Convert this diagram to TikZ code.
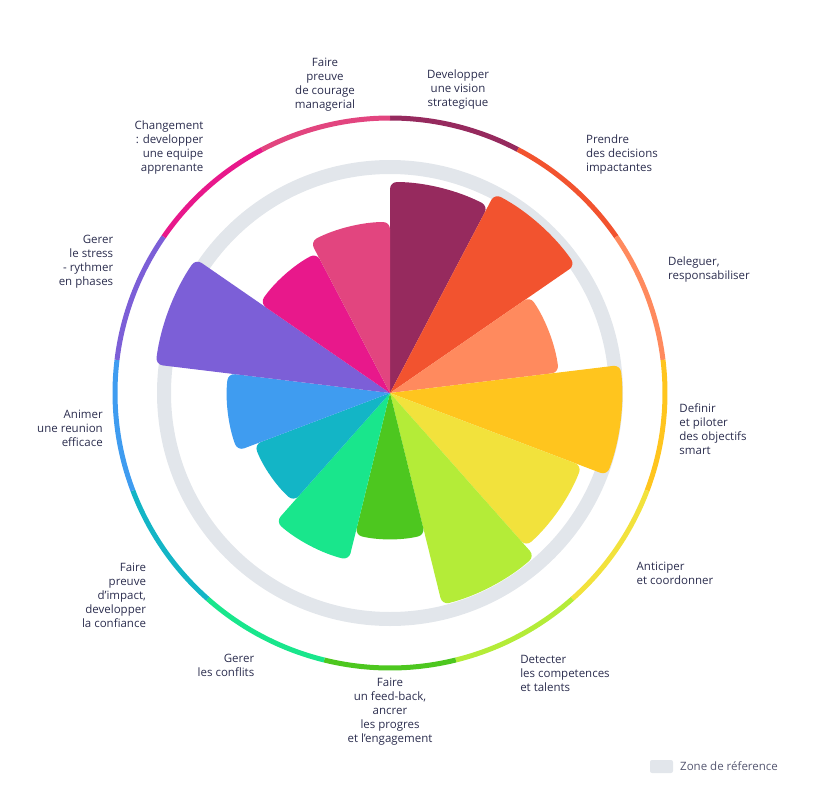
\documentclass[tikz,border=0pt]{standalone}
\usepackage{fontspec}
\setmainfont{Open Sans}
\usetikzlibrary{calc}
\definecolor{ink}{HTML}{2B2D4E}
\definecolor{zone}{HTML}{E2E6EB}
\definecolor{cA}{HTML}{962A5E}
\definecolor{cB}{HTML}{F2532F}
\definecolor{cC}{HTML}{FF8A5E}
\definecolor{cD}{HTML}{FFC51E}
\definecolor{cE}{HTML}{F2E23C}
\definecolor{cF}{HTML}{B4EC38}
\definecolor{cG}{HTML}{4DC71F}
\definecolor{cH}{HTML}{19E68C}
\definecolor{cI}{HTML}{13B5C6}
\definecolor{cJ}{HTML}{3F9CF0}
\definecolor{cK}{HTML}{7C5FD7}
\definecolor{cL}{HTML}{E8188B}
\definecolor{cM}{HTML}{E2457F}
\tikzset{lbl/.style={text=ink,font=\fontsize{11.5}{14}\selectfont,inner sep=0pt,align=center}}
\tikzset{lbll/.style={lbl,align=left}}
\tikzset{lblr/.style={lbl,align=right}}
\begin{document}
\begin{tikzpicture}[x=1pt,y=1pt]
    \useasboundingbox (0,0) rectangle (817,-787);
    \coordinate (c) at (390,-393);
    % reference zone
    \draw[zone,line width=14pt] (c) circle[radius=226];
    % sectors and outer ring
    \foreach \i/\r/\col in {1/211/cA,2/225/cB,3/170/cC,4/232/cD,5/205/cE,6/218/cF,7/146/cG,
                            8/172/cH,9/145/cI,10/163/cJ,11/236/cK,12/158/cL,13/171/cM}{
      \pgfmathsetmacro\a{90-(\i-1)*360/13}
      \pgfmathsetmacro\b{\a-360/13}
      \fill[\col] (c) [rounded corners=7pt] -- ($(c)+(\a:\r)$) arc[start angle=\a,end angle=\b,radius=\r] [sharp corners] -- cycle;
      \draw[\col,line width=5pt] ($(c)+(\a:275)$) arc[start angle=\a,end angle=\b,radius=275];
    }
    % labels
    \node[lbl]  (lbl1)  at (458,-90)  {Developper\\une vision\\strategique};
    \node[lbll] (lbl2)  at (622,-155) {Prendre\\des decisions\\impactantes};
    \node[lbll] (lbl3)  at (709,-270) {Deleguer,\\responsabiliser};
    \node[lbll] (lbl4)  at (713,-429) {Definir\\et piloter\\des objectifs\\smart};
    \node[lbll] (lbl5)  at (675,-573) {Anticiper\\et coordonner};
    \node[lbll] (lbl6)  at (565,-673) {Detecter\\les competences\\et talents};
    \node[lbl]  (lbl7)  at (390,-712) {Faire\\un feed-back,\\ancrer\\les progres\\et l'engagement};
    \node[lblr] (lbl8)  at (226,-665) {Gerer\\les conflits};
    \node[lblr] (lbl9)  at (114,-595) {Faire\\preuve\\d'impact,\\developper\\la confiance};
    \node[lblr] (lbl10) at (70,-428)  {Animer\\une reunion\\efficace};
    \node[lblr] (lbl11) at (86,-262)  {Gerer\\le stress\\- rythmer\\en phases};
    \node[lblr] (lbl12) at (169,-148) {Changement\\: developper\\une equipe\\apprenante};
    \node[lbl]  (lbl13) at (325,-85)  {Faire\\preuve\\de courage\\managerial};
    % legend
    \fill[zone,rounded corners=2pt] (650,-760) rectangle (673,-773);
    \node[lbll,anchor=west,text=ink!80] (leg) at (680,-766) {Zone de réference};
\end{tikzpicture}
\end{document}
